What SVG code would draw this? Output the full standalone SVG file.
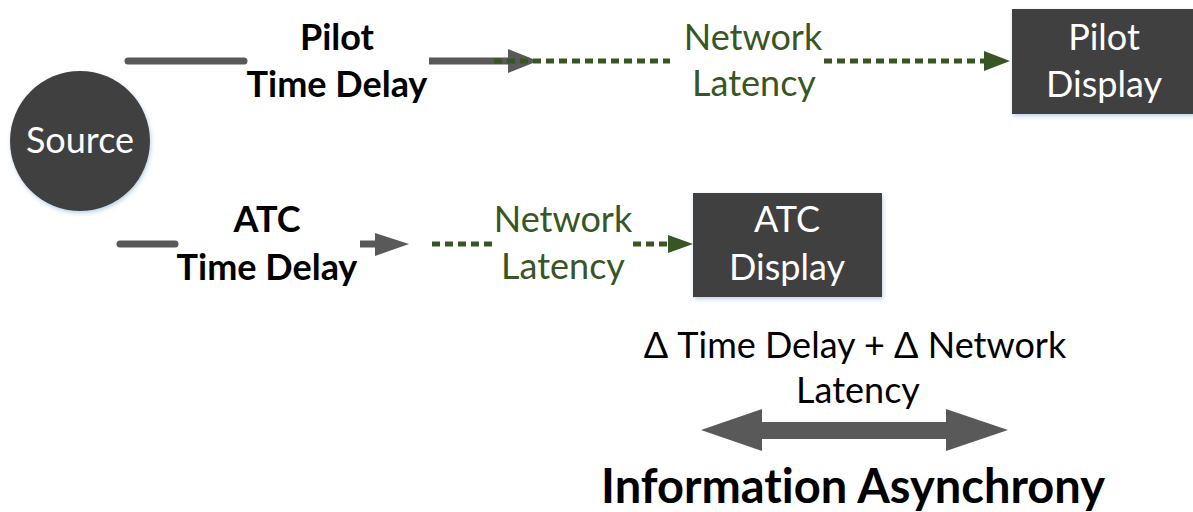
<svg xmlns="http://www.w3.org/2000/svg" width="1193" height="512" viewBox="0 0 1193 512">
<style>
text{font-variant-ligatures:none;font-feature-settings:"liga" 0,"dlig" 0}
.node{fill:#404040;filter:url(#sh)}
.wt{fill:#ffffff;font-family:Lato,"Open Sans",sans-serif;font-size:36px;text-anchor:middle}
.bt{fill:#000000;font-family:Lato,"Open Sans",sans-serif;font-size:36px;font-weight:bold;text-anchor:middle}
.gt{fill:#375623;font-family:Lato,"Open Sans",sans-serif;font-size:36px;text-anchor:middle}
.kt{fill:#000000;font-family:Lato,"Open Sans",sans-serif;font-size:36px;text-anchor:middle}
.gl{stroke:#595959;stroke-width:7;fill:none}
.gh{fill:#595959}
.dl{stroke:#375623;stroke-width:5;fill:none;stroke-dasharray:8 5}
.dh{fill:#375623}
</style>
<defs>
<filter id="sh" x="-10%" y="-10%" width="130%" height="130%">
<feDropShadow dx="1" dy="2" stdDeviation="2" flood-color="#8fb0d8" flood-opacity="0.6"/>
</filter>
</defs>
<rect width="1193" height="512" fill="#ffffff"/>
<g id="connectors">
<line class="gl" x1="128" y1="61" x2="244" y2="61" stroke-linecap="round"/>
<line class="gl" x1="429" y1="61" x2="510" y2="61"/>
<polygon class="gh" points="508,49 538,61 508,73"/>
<line class="dl" x1="494" y1="61" x2="670" y2="61"/>
<line class="dl" x1="824" y1="61" x2="986" y2="61"/>
<polygon class="dh" points="984,51 1010,61 984,71"/>
<line class="gl" x1="120" y1="244" x2="175" y2="244" stroke-linecap="round"/>
<line class="gl" x1="360" y1="244" x2="377" y2="244"/>
<polygon class="gh" points="375,233 409,244 375,256"/>
<line class="dl" x1="432" y1="244" x2="494" y2="244"/>
<line class="dl" x1="633" y1="244" x2="670" y2="244"/>
<polygon class="dh" points="668,235 693,244 668,253"/>
<polygon class="gh" points="701,430 762,409 762,422 946,422 946,409 1008,430 946,451 946,439 762,439 762,451"/>
</g>
<g id="source">
<circle class="node" cx="80" cy="141" r="70"/>
<text class="wt" x="80" y="153">Source</text>
</g>
<g id="pilot-display">
<rect class="node" x="1012" y="9" width="183" height="105"/>
<text class="wt" x="1104" y="50">Pilot</text>
<text class="wt" x="1104" y="97">Display</text>
</g>
<g id="atc-display">
<rect class="node" x="693" y="193" width="189" height="104"/>
<text class="wt" x="787" y="232">ATC</text>
<text class="wt" x="787" y="280">Display</text>
</g>
<g id="labels">
<text class="bt" x="337" y="50">Pilot</text>
<text class="bt" x="337" y="97">Time Delay</text>
<text class="gt" x="753" y="50">Network</text>
<text class="gt" x="754" y="96">Latency</text>
<text class="bt" x="267" y="232">ATC</text>
<text class="bt" x="267" y="280">Time Delay</text>
<text class="gt" x="563" y="232">Network</text>
<text class="gt" x="563" y="279">Latency</text>
<text class="kt" x="855" y="358">Δ Time Delay + Δ Network</text>
<text class="kt" x="858" y="403">Latency</text>
<text class="bt" x="853" y="503" style="font-size:47px">Information Asynchrony</text>
</g>
</svg>
